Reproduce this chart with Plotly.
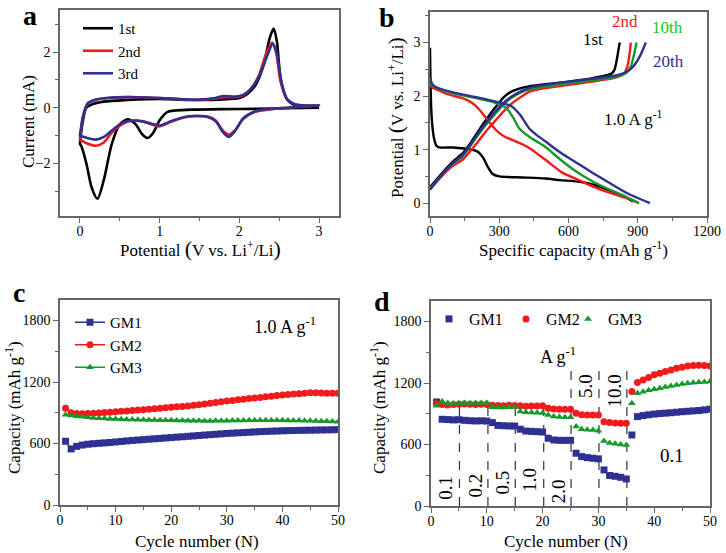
import plotly.graph_objects as go

FONT = "Liberation Serif"

# ---- panel a: cyclic voltammetry (V, mA) ----
cv1_v = [3.0, 2.6, 2.2, 1.8, 1.4, 1.2, 1.1, 1.0, 0.92, 0.85, 0.78, 0.7, 0.6, 0.5, 0.4, 0.3, 0.22, 0.15, 0.08, 0.02, 0.0,
         0.0, 0.03, 0.08, 0.15, 0.3, 0.6, 1.0, 1.4, 1.8, 2.0, 2.1, 2.2, 2.3, 2.38, 2.43, 2.47, 2.52, 2.6, 2.7, 2.85, 3.0]
cv1_i = [0.0, -0.02, -0.04, -0.05, -0.07, -0.1, -0.15, -0.45, -0.9, -1.09, -0.95, -0.6, -0.42, -0.6, -1.3, -2.6, -3.28, -2.9, -2.0, -1.4, -1.3,
         -1.3, -0.6, 0.0, 0.12, 0.22, 0.28, 0.32, 0.28, 0.3, 0.35, 0.5, 0.8, 1.5, 2.5, 2.85, 2.4, 1.0, 0.3, 0.08, 0.02, 0.02]
cv2_v = [3.0, 2.8, 2.6, 2.4, 2.2, 2.05, 1.95, 1.87, 1.8, 1.7, 1.6, 1.45, 1.3, 1.15, 1.0, 0.9, 0.8, 0.7, 0.6, 0.5, 0.4, 0.3, 0.2, 0.1, 0.0,
         0.0, 0.04, 0.1, 0.2, 0.4, 0.7, 1.0, 1.3, 1.5, 1.7, 1.8, 1.95, 2.05, 2.15, 2.25, 2.33, 2.41, 2.46, 2.52, 2.6, 2.7, 2.85, 3.0]
cv2_i = [0.08, 0.05, 0.0, -0.05, -0.15, -0.4, -0.8, -0.97, -0.85, -0.45, -0.32, -0.3, -0.35, -0.5, -0.67, -0.6, -0.5, -0.47, -0.5, -0.65, -0.9, -1.25, -1.37, -1.3, -1.15,
         -1.15, -0.3, 0.15, 0.28, 0.36, 0.38, 0.35, 0.3, 0.28, 0.33, 0.38, 0.38, 0.45, 0.7, 1.2, 1.9, 2.35, 2.0, 0.9, 0.3, 0.12, 0.08, 0.08]
cv3_v = [3.0, 2.8, 2.6, 2.4, 2.2, 2.05, 1.95, 1.87, 1.8, 1.7, 1.6, 1.45, 1.3, 1.15, 1.0, 0.9, 0.8, 0.7, 0.6, 0.5, 0.4, 0.3, 0.2, 0.1, 0.0,
         0.0, 0.04, 0.1, 0.2, 0.4, 0.7, 1.0, 1.3, 1.5, 1.7, 1.8, 1.95, 2.05, 2.15, 2.25, 2.34, 2.42, 2.47, 2.53, 2.6, 2.7, 2.85, 3.0]
cv3_i = [0.08, 0.05, 0.0, -0.04, -0.13, -0.38, -0.82, -1.05, -0.9, -0.48, -0.33, -0.3, -0.34, -0.48, -0.64, -0.58, -0.5, -0.46, -0.48, -0.6, -0.82, -1.05, -1.15, -1.1, -1.0,
         -1.0, -0.3, 0.17, 0.3, 0.37, 0.38, 0.35, 0.3, 0.29, 0.35, 0.42, 0.4, 0.46, 0.7, 1.15, 1.8, 2.3, 1.95, 0.9, 0.3, 0.12, 0.08, 0.08]

# ---- panel b: charge/discharge profiles (mAh/g, V) ----
b1_dis_c = [0, 2, 5, 10, 18, 28, 40, 100, 150, 190, 210, 230, 250, 270, 300, 400, 500, 563, 650, 720, 790, 850, 880]
b1_dis_v = [2.9, 2.3, 1.8, 1.45, 1.2, 1.07, 1.04, 1.04, 1.02, 0.99, 0.95, 0.85, 0.68, 0.55, 0.5, 0.48, 0.46, 0.43, 0.4, 0.33, 0.22, 0.1, 0.03]
b1_chg_c = [0, 50, 100, 141, 180, 213, 250, 285, 320, 343, 380, 429, 500, 600, 700, 787, 800, 810, 818, 822]
b1_chg_v = [0.3, 0.55, 0.78, 0.93, 1.15, 1.37, 1.6, 1.8, 1.98, 2.06, 2.13, 2.18, 2.22, 2.27, 2.33, 2.42, 2.5, 2.7, 2.9, 3.0]
b2_dis_c = [0, 10, 30, 80, 140, 180, 215, 250, 285, 320, 357, 400, 430, 500, 573, 650, 707, 780, 850, 905]
b2_dis_v = [2.21, 2.16, 2.12, 2.03, 1.96, 1.88, 1.74, 1.55, 1.37, 1.25, 1.18, 1.1, 1.03, 0.81, 0.57, 0.42, 0.31, 0.19, 0.1, 0.0]
b2_chg_c = [0, 50, 100, 141, 180, 213, 250, 285, 320, 357, 400, 429, 500, 602, 700, 800, 840, 855, 865, 870]
b2_chg_v = [0.26, 0.5, 0.7, 0.81, 1.0, 1.18, 1.38, 1.55, 1.72, 1.87, 2.0, 2.08, 2.15, 2.21, 2.27, 2.34, 2.42, 2.55, 2.8, 3.0]
b10_dis_c = [0, 10, 30, 100, 200, 280, 330, 360, 386, 430, 500, 563, 630, 707, 780, 850, 905]
b10_dis_v = [2.3, 2.2, 2.15, 2.05, 1.96, 1.88, 1.78, 1.6, 1.4, 1.24, 1.05, 0.82, 0.6, 0.4, 0.25, 0.12, 0.0]
b10_chg_c = [0, 50, 100, 141, 180, 213, 250, 285, 320, 357, 400, 429, 500, 602, 700, 800, 850, 870, 885, 895]
b10_chg_v = [0.27, 0.52, 0.74, 0.87, 1.1, 1.3, 1.5, 1.68, 1.85, 1.98, 2.08, 2.12, 2.18, 2.24, 2.29, 2.35, 2.43, 2.55, 2.8, 3.0]
b20_dis_c = [0, 10, 30, 100, 200, 300, 350, 390, 429, 460, 501, 563, 640, 707, 780, 852, 953]
b20_dis_v = [2.35, 2.22, 2.16, 2.07, 1.98, 1.88, 1.82, 1.65, 1.4, 1.28, 1.15, 0.95, 0.74, 0.56, 0.37, 0.19, 0.0]
b20_chg_c = [0, 50, 100, 141, 180, 213, 250, 285, 320, 357, 400, 429, 500, 602, 700, 800, 850, 880, 910, 935]
b20_chg_v = [0.25, 0.52, 0.75, 0.9, 1.12, 1.33, 1.54, 1.72, 1.88, 2.0, 2.1, 2.15, 2.21, 2.27, 2.32, 2.38, 2.45, 2.55, 2.75, 3.0]

# ---- panel c: cycling at 1.0 A/g ----
cycles = list(range(1, 51))
c_gm1 = [622, 547, 572, 585, 593, 598, 602, 606, 610, 615, 620, 625, 630, 634, 638, 642, 646, 650, 654, 658,
         662, 666, 670, 674, 678, 682, 686, 690, 694, 698, 701, 704, 707, 710, 713, 716, 718, 720, 722, 724,
         726, 727, 728, 729, 730, 731, 732, 733, 734, 736]
c_gm2 = [944, 900, 893, 890, 892, 895, 898, 902, 906, 910, 914, 918, 922, 926, 930, 935, 940, 945, 950, 954,
         958, 962, 966, 972, 979, 986, 993, 1000, 1007, 1014, 1020, 1026, 1032, 1038, 1044, 1050, 1056, 1062, 1068, 1074,
         1078, 1082, 1086, 1090, 1095, 1094, 1092, 1091, 1090, 1090]
c_gm3 = [880, 872, 866, 860, 855, 850, 846, 843, 840, 838, 836, 834, 833, 832, 831, 830, 829, 828, 827, 826,
         825, 824, 823, 822, 821, 820, 820, 821, 822, 823, 824, 825, 825, 826, 826, 826, 826, 826, 826, 826,
         825, 825, 824, 823, 822, 820, 818, 816, 814, 812]

# ---- panel d: rate performance ----
d_gm1 = [1015, 846, 843, 840, 842, 836, 832, 830, 831, 829, 814, 786, 783, 781, 780, 749, 731, 728, 725, 722,
         661, 644, 641, 640, 641, 515, 482, 472, 466, 460, 352, 298, 290, 280, 264, 693, 872, 882, 890, 897,
         902, 906, 910, 915, 920, 924, 928, 932, 938, 944]
d_gm2 = [1000, 990, 985, 990, 993, 995, 992, 990, 993, 990, 982, 980, 978, 982, 980, 977, 973, 975, 976, 977,
         954, 946, 944, 945, 944, 905, 890, 888, 889, 889, 823, 815, 810, 808, 807, 1116, 1204, 1230, 1253, 1280,
         1296, 1312, 1328, 1344, 1354, 1365, 1370, 1372, 1370, 1367]
d_gm3 = [977, 1019, 1005, 1000, 1002, 1005, 1003, 1006, 1005, 1007, 963, 960, 962, 964, 965, 921, 915, 912, 910, 908,
         889, 872, 868, 866, 866, 775, 750, 745, 742, 735, 635, 615, 608, 600, 596, 1003, 1100, 1115, 1130, 1139,
         1150, 1160, 1170, 1180, 1191, 1198, 1203, 1207, 1210, 1214]
rate_edges = [5.1, 10.2, 15.1, 20.2, 25.1, 30.1, 35.1]
rate_tops = [1040, 1040, 1040, 1040, 1370, 1370, 1370]
rate_labels = ["0.1", "0.2", "0.5", "1.0", "2.0", "5.0", "10.0"]

BLACK = "#000000"
RED = "#f21b1b"
BLUE = "#2e3192"
GREEN = "#159a2a"
GREEN_TXT = "#22c322"

fig = go.Figure()

# panel a
for v, i, col, name in [(cv1_v, cv1_i, BLACK, "1st"), (cv2_v, cv2_i, RED, "2nd"), (cv3_v, cv3_i, BLUE, "3rd")]:
    fig.add_trace(go.Scatter(x=v, y=i, mode="lines", name=name, line=dict(color=col, width=2.6, shape="spline", smoothing=0.8),
                             xaxis="x", yaxis="y", legend="legend"))

# panel b
for dc, dv, cc, cvv, col in [(b1_dis_c, b1_dis_v, b1_chg_c, b1_chg_v, BLACK),
                             (b2_dis_c, b2_dis_v, b2_chg_c, b2_chg_v, RED),
                             (b10_dis_c, b10_dis_v, b10_chg_c, b10_chg_v, GREEN),
                             (b20_dis_c, b20_dis_v, b20_chg_c, b20_chg_v, BLUE)]:
    fig.add_trace(go.Scatter(x=dc, y=dv, mode="lines", showlegend=False, line=dict(color=col, width=2.4, shape="spline", smoothing=0.6),
                             xaxis="x2", yaxis="y2"))
    fig.add_trace(go.Scatter(x=cc, y=cvv, mode="lines", showlegend=False, line=dict(color=col, width=2.4, shape="spline", smoothing=0.6),
                             xaxis="x2", yaxis="y2"))

# panel c
for ys, col, sym, name in [(c_gm1, BLUE, "square", "GM1"), (c_gm2, RED, "circle", "GM2"), (c_gm3, GREEN, "triangle-up", "GM3")]:
    fig.add_trace(go.Scatter(x=cycles, y=ys, mode="lines+markers", name=name,
                             line=dict(color=col, width=1.5), marker=dict(symbol=sym, size=7, color=col),
                             xaxis="x3", yaxis="y3", legend="legend2"))

# panel d
ex, ey = [], []
for e, t in zip(rate_edges, rate_tops):
    ex += [e, e, None]
    ey += [0, t, None]
fig.add_trace(go.Scatter(x=ex, y=ey, mode="lines", showlegend=False, line=dict(color="#333", width=1.2, dash="dash"),
                         xaxis="x4", yaxis="y4"))
for ys, col, sym, name, lg in [(d_gm1, BLUE, "square", "GM1", "legend3"), (d_gm2, RED, "circle", "GM2", "legend4"),
                               (d_gm3, GREEN, "triangle-up", "GM3", "legend5")]:
    fig.add_trace(go.Scatter(x=cycles, y=ys, mode="markers", name=name,
                             marker=dict(symbol=sym, size=7, color=col),
                             xaxis="x4", yaxis="y4", legend=lg))


def ax(domain, rng, dtick, minor, anchor, tick0=0, standoff=0):
    return dict(domain=domain, range=rng, dtick=dtick, tick0=tick0, anchor=anchor,
                showline=True, linecolor="#666", linewidth=1.5, mirror=True,
                ticks="outside", ticklen=5, tickwidth=1.2, tickcolor="#666", ticklabelstandoff=standoff,
                minor=dict(ticks="outside", ticklen=3, tickwidth=1.2, tickcolor="#666", dtick=minor, tick0=tick0),
                showgrid=False, zeroline=False, automargin=False,
                tickfont=dict(family=FONT, size=14, color="black"))


def lg(x, y, **kw):
    return dict(x=x, y=y, xanchor="left", yanchor="top", bgcolor="rgba(0,0,0,0)", **kw)


BP = "<span style='font-size:22px'>(</span>"
EP = "<span style='font-size:22px'>)</span>"
pot_title = "Potential " + BP + "V vs. Li<sup>+</sup>/Li" + EP
cap_title = "Capacity (mAh g<sup>-1</sup>)"

H = 553.0
W = 726.0
fig.update_layout(
    width=726, height=553, margin=dict(l=0, r=0, t=0, b=0),
    paper_bgcolor="white", plot_bgcolor="white",
    font=dict(family=FONT, color="black"),
    xaxis=ax([60 / W, 339 / W], [-0.25, 3.25], 1, 0.5, "y", standoff=-4),
    yaxis=ax([1 - 216 / H, 1 - 10 / H], [-3.9, 3.52], 2, 1, "x"),
    xaxis2=ax([430 / W, 707 / W], [0, 1200], 300, 150, "y2", standoff=-4),
    yaxis2=ax([1 - 216 / H, 1 - 12 / H], [-0.24, 3.57], 1, 0.5, "x2"),
    xaxis3=ax([60 / W, 338 / W], [0, 50], 10, 5, "y3", standoff=-4),
    yaxis3=ax([1 - 505 / H, 1 - 300 / H], [0, 2000], 600, 300, "x3"),
    xaxis4=ax([431 / W, 710 / W], [0, 50], 10, 5, "y4", standoff=-4),
    yaxis4=ax([1 - 506 / H, 1 - 301 / H], [0, 2000], 600, 300, "x4"),
    legend=lg(78 / W, 1 - 12 / H, font=dict(family=FONT, size=15), tracegroupgap=0),
    legend2=lg(70 / W, 1 - 306 / H, font=dict(family=FONT, size=15)),
    legend3=lg(429 / W, 1 - 302 / H, font=dict(family=FONT, size=16)),
    legend4=lg(506 / W, 1 - 302 / H, font=dict(family=FONT, size=16)),
    legend5=lg(568 / W, 1 - 302 / H, font=dict(family=FONT, size=16)),
)

ann = []
for txt, x, y in [("a", 30, 16), ("b", 387, 17), ("c", 19, 292), ("d", 382, 301)]:
    ann.append(dict(text="<b>" + txt + "</b>", x=x / W, y=1 - y / H, xref="paper", yref="paper", showarrow=False,
                    xanchor="center", yanchor="middle", font=dict(family=FONT, size=28, color="black")))
# axis titles
for txt, x, y, ang in [(pot_title, 200, 249, 0), ("Current (mA)", 29, 122, -90),
                       ("Specific capacity (mAh g<sup>-1</sup>)", 573, 249, 0), (pot_title, 396, 117, -90),
                       ("Cycle number (N)", 197, 541, 0), (cap_title, 13, 408, -90),
                       ("Cycle number (N)", 566, 541, 0), (cap_title, 378, 408, -90)]:
    ann.append(dict(text=txt, x=x / W, y=1 - y / H, xref="paper", yref="paper", showarrow=False, textangle=ang,
                    xanchor="center", yanchor="middle", font=dict(family=FONT, size=17, color="black")))
# panel b labels
for txt, x, y, col in [("1st", 706, 3.05, BLACK), ("2nd", 843, 3.39, RED), ("10th", 1030, 3.28, GREEN_TXT),
                       ("20th", 1033, 2.65, BLUE), ("1.0 A g<sup>-1</sup>", 882, 1.59, BLACK)]:
    ann.append(dict(text=txt, x=x, y=y, xref="x2", yref="y2", showarrow=False, font=dict(family=FONT, size=17, color=col)))
ann.append(dict(text="1.0 A g<sup>-1</sup>", x=40.4, y=1751, xref="x3", yref="y3", showarrow=False,
                font=dict(family=FONT, size=18, color="black")))
ann.append(dict(text="A g<sup>-1</sup>", x=22.8, y=1465, xref="x4", yref="y4", showarrow=False,
                font=dict(family=FONT, size=18, color="black")))
ann.append(dict(text="0.1", x=43.1, y=488, xref="x4", yref="y4", showarrow=False,
                font=dict(family=FONT, size=19, color="black")))
for lab, x, y in zip(rate_labels, [2.7, 7.8, 12.9, 17.7, 22.8, 27.8, 32.9], [179, 195, 228, 254, 146, 1172, 1123]):
    ann.append(dict(text=lab, x=x, y=y, xref="x4", yref="y4", showarrow=False, textangle=-90,
                    font=dict(family=FONT, size=19, color="black")))
fig.update_layout(annotations=ann)

fig.write_html("out.html", config={"displayModeBar": False},
               post_script="document.body.style.margin='0px';document.documentElement.style.overflow='hidden';")
